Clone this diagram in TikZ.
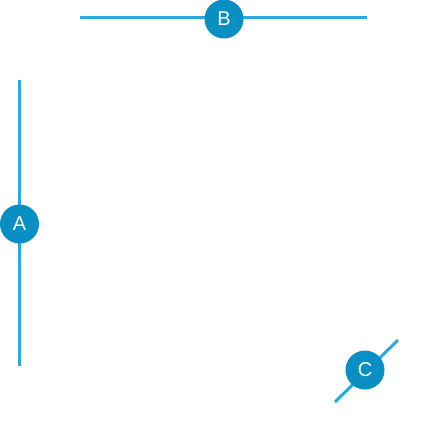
\documentclass[tikz,border=0pt]{standalone}
\usepackage{fontspec}
\setmainfont{Liberation Sans}
\definecolor{linec}{HTML}{29A9E1}
\definecolor{dotc}{HTML}{0A8FC4}
\begin{document}
\begin{tikzpicture}[x=1pt,y=-1pt,
  wire/.style={draw=linec,line width=3pt},
  badge/.style={circle,fill=dotc,minimum size=39pt,inner sep=0pt,text=white,font=\fontsize{20}{22}\selectfont}]
\useasboundingbox (0,0) rectangle (448,448);
\coordinate (b1) at (80,17.5);
\coordinate (b2) at (367,17.5);
\coordinate (a1) at (19.5,80);
\coordinate (a2) at (19.5,366);
\coordinate (c1) at (335,402);
\coordinate (c2) at (398,340);
\draw[wire] (b1) -- (b2);
\draw[wire] (a1) -- (a2);
\draw[wire] (c1) -- (c2);
\node[badge] (B) at (224,19) {B};
\node[badge] (A) at (19.5,224) {A};
\node[badge] (C) at (365,370) {C};
\end{tikzpicture}
\end{document}
